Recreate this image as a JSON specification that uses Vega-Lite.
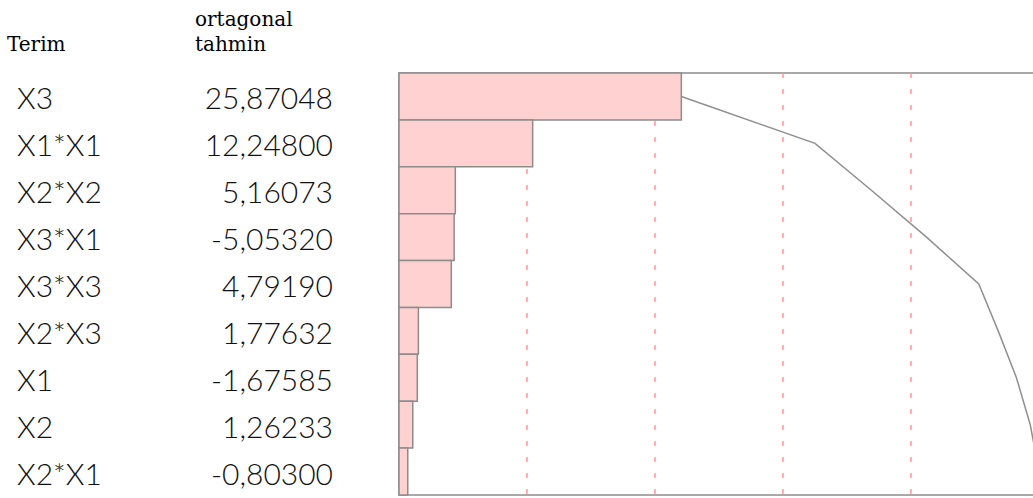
{
  "$schema": "https://vega.github.io/schema/vega-lite/v6.json",
  "padding": {"left": 7, "top": 10, "right": 0, "bottom": 0},
  "bounds": "flush",
  "spacing": 66,
  "datasets": {
    "terms": [
      {"term": "X3", "estimate": 25.87048, "size": 25.87048, "cum": 25.87048},
      {"term": "X1*X1", "estimate": 12.248, "size": 12.248, "cum": 38.11848},
      {"term": "X2*X2", "estimate": 5.16073, "size": 5.16073, "cum": 43.27921},
      {"term": "X3*X1", "estimate": -5.0532, "size": 5.0532, "cum": 48.33241},
      {"term": "X3*X3", "estimate": 4.7919, "size": 4.7919, "cum": 53.12431},
      {"term": "X2*X3", "estimate": 1.77632, "size": 1.77632, "cum": 54.90063},
      {"term": "X1", "estimate": -1.67585, "size": 1.67585, "cum": 56.57648},
      {"term": "X2", "estimate": 1.26233, "size": 1.26233, "cum": 57.83881},
      {"term": "X2*X1", "estimate": -0.803, "size": 0.803, "cum": 58.64181}
    ],
    "refs": [
      {"share": 11.72836},
      {"share": 23.45672},
      {"share": 35.18509},
      {"share": 46.91345}
    ]
  },
  "hconcat": [
    {
      "width": 112,
      "height": 422,
      "title": {"text": "Terim", "anchor": "start", "font": "DejaVu Serif", "fontSize": 20, "fontWeight": "normal", "color": "#000000", "offset": 18, "dx": -10},
      "data": {"name": "terms"},
      "mark": {"type": "text", "align": "left", "baseline": "middle", "dy": 4, "font": "Lato", "fontWeight": 300, "fontSize": 30, "color": "#111111"},
      "encoding": {
        "y": {"field": "term", "type": "nominal", "sort": null, "axis": null, "scale": {"paddingInner": 0, "paddingOuter": 0}},
        "x": {"datum": 0, "type": "quantitative", "scale": {"domain": [0, 1]}, "axis": null},
        "text": {"field": "term", "type": "nominal"}
      }
    },
    {
      "width": 138,
      "height": 422,
      "title": {"text": ["ortagonal", "tahmin"], "anchor": "start", "font": "DejaVu Serif", "fontSize": 20, "fontWeight": "normal", "color": "#000000", "offset": 18, "lineHeight": 25},
      "data": {"name": "terms"},
      "mark": {"type": "text", "align": "right", "baseline": "middle", "dy": 4, "font": "Lato", "fontWeight": 300, "fontSize": 30, "color": "#111111"},
      "encoding": {
        "y": {"field": "term", "type": "nominal", "sort": null, "axis": null, "scale": {"paddingInner": 0, "paddingOuter": 0}},
        "x": {"datum": 1, "type": "quantitative", "scale": {"domain": [0, 1]}, "axis": null},
        "text": {"field": "estimate", "type": "quantitative", "format": ".5f"}
      }
    },
    {
      "width": 640,
      "height": 422,
      "view": {"stroke": "#8c8c8c", "strokeWidth": 1.5},
      "encoding": {
        "x": {"type": "quantitative", "scale": {"domain": [0, 58.64181], "nice": false, "zero": true}, "axis": null}
      },
      "layer": [
        {
          "data": {"name": "refs"},
          "mark": {"type": "rule", "color": "#ff94a8", "strokeWidth": 1.5, "strokeDash": [5, 11]},
          "encoding": {"x": {"field": "share", "type": "quantitative", "scale": {"domain": [0, 58.64181], "nice": false}, "axis": null}}
        },
        {
          "data": {"name": "terms"},
          "mark": {"type": "bar", "fill": "#ffd1d1", "stroke": "#8c8c8c", "strokeWidth": 1.5, "cornerRadius": 0},
          "encoding": {
            "y": {"field": "term", "type": "nominal", "sort": null, "axis": null, "scale": {"paddingInner": 0, "paddingOuter": 0}},
            "x": {"field": "size", "type": "quantitative", "scale": {"domain": [0, 58.64181], "nice": false}, "axis": null}
          }
        },
        {
          "data": {"name": "terms"},
          "mark": {"type": "line", "color": "#8f8f8f", "strokeWidth": 1.5},
          "encoding": {
            "y": {"field": "term", "type": "nominal", "sort": null, "axis": null},
            "x": {"field": "cum", "type": "quantitative", "axis": null}
          }
        }
      ]
    }
  ],
  "config": {
    "view": {"stroke": null},
    "locale": {"number": {"decimal": ",", "thousands": ".", "grouping": [3], "currency": ["", ""], "minus": "-"}}
  }
}
